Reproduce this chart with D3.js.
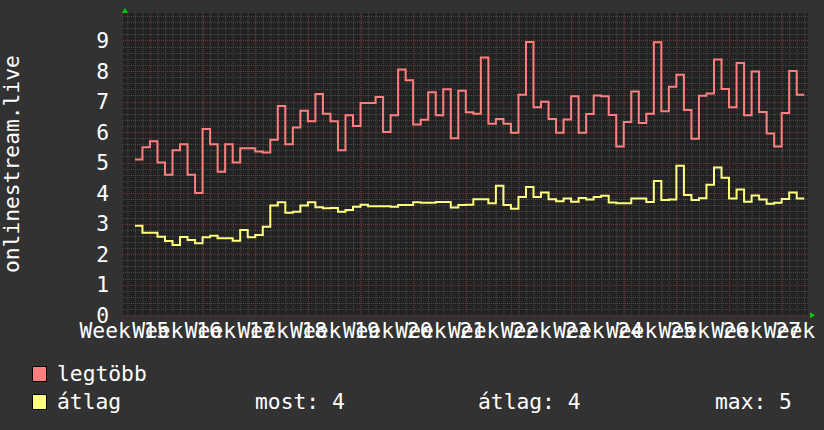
<!DOCTYPE html>
<html>
<head>
<meta charset="utf-8">
<script src="https://cdn.jsdelivr.net/npm/d3@7"></script>
<style>
  html, body { margin: 0; padding: 0; background: #323232; }
  svg { display: block; }
  text { font-family: "DejaVu Sans Mono", monospace; fill: #ffffff; }
</style>
</head>
<body>
<div id="chart"></div>
<script>
//
// rrd-style daily step chart
//

// first day of data (one value per day)
var firstDay = "2024-04-06";

// daily maximum ("legtöbb")
var maxValues = [
    5.1, 5.5, 5.7, 5.0, 4.6, 5.4, 5.6, 4.6, 4.0, 6.1,
    5.6, 4.7, 5.6, 5.0, 5.47, 5.47, 5.36, 5.33, 5.75, 6.85,
    5.6, 6.15, 6.7, 6.35, 7.25, 6.6, 6.35, 5.4, 6.55, 6.2,
    6.95, 6.95, 7.15, 6.0, 6.55, 8.05, 7.7, 6.25, 6.4, 7.3,
    6.55, 7.4, 5.8, 7.35, 6.65, 6.6, 8.44, 6.27, 6.43, 6.27,
    5.98, 7.22, 8.95, 6.81, 6.99, 6.43, 5.98, 6.41, 7.17, 5.98,
    6.59, 7.2, 7.17, 6.56, 5.53, 6.33, 7.33, 6.3, 6.6, 8.94,
    6.68, 7.48, 7.88, 6.72, 5.78, 7.19, 7.26, 8.38, 7.41, 6.81,
    8.26, 6.55, 7.98, 6.66, 5.95, 5.53, 6.62, 8.0, 7.22
];

// daily average ("átlag")
var avgValues = [
    2.93, 2.7, 2.7, 2.57, 2.43, 2.3, 2.56, 2.46, 2.36, 2.55,
    2.6, 2.52, 2.52, 2.44, 2.79, 2.55, 2.63, 2.9, 3.59, 3.7,
    3.36, 3.39, 3.59, 3.7, 3.54, 3.5, 3.51, 3.39, 3.45, 3.55,
    3.62, 3.57, 3.57, 3.57, 3.55, 3.61, 3.61, 3.7, 3.68, 3.68,
    3.71, 3.71, 3.53, 3.61, 3.62, 3.8, 3.8, 3.67, 4.24, 3.61,
    3.49, 3.87, 4.2, 3.87, 4.02, 3.8, 3.73, 3.82, 3.72, 3.84,
    3.79, 3.87, 3.91, 3.69, 3.67, 3.67, 3.82, 3.82, 3.71, 4.4,
    3.77, 3.79, 4.9, 3.94, 3.77, 3.83, 4.27, 4.84, 4.5, 3.82,
    4.12, 3.72, 3.92, 3.79, 3.65, 3.68, 3.81, 4.02, 3.82
];

var yTicks = [0, 1, 2, 3, 4, 5, 6, 7, 8, 9];
var yLabel = "onlinestream.live";
var legendNames = ["legtöbb", "átlag"];
var legendStats = ["most: 4", "átlag: 4", "max: 5"];

var width = 824, height = 430;
var plotLeft = 123, plotRight = 808, plotTop = 13, plotBottom = 315.2;
var colMax = "#ff7f7f", colAvg = "#ffff7f";
var DAY = 864e5;

var svg = d3.select("#chart").append("svg")
    .attr("width", width)
    .attr("height", height);

svg.append("rect").attr("width", width).attr("height", height).attr("fill", "#323232");
svg.append("rect")
    .attr("x", plotLeft).attr("y", plotTop)
    .attr("width", plotRight - plotLeft).attr("height", plotBottom - plotTop)
    .attr("fill", "#222222");

var start = new Date("2024-04-04T10:00:00Z");
var end = new Date("2024-07-04T12:00:00Z");
var x = d3.scaleUtc().domain([start, end]).range([plotLeft, plotRight]);
var y = d3.scaleLinear().domain([0, 9.9]).range([plotBottom, plotTop]);

var t0 = new Date(firstDay + "T00:00:00Z");
function toPoints(vals) {
    var pts = vals.map(function (v, i) { return { t: new Date(+t0 + i * DAY), v: v }; });
    pts.push({ t: new Date(+t0 + vals.length * DAY), v: vals[vals.length - 1] });
    return pts;
}

// minor grid
var g = svg.append("g");
d3.utcDay.range(d3.utcDay.ceil(start), end).forEach(function (d) {
    g.append("line")
        .attr("x1", x(d) + 0.5).attr("x2", x(d) + 0.5)
        .attr("y1", plotTop).attr("y2", plotBottom)
        .attr("stroke", "#4a4a4a").attr("stroke-dasharray", "1,1");
});
d3.range(0, 9.9, 0.2).forEach(function (v) {
    g.append("line")
        .attr("x1", plotLeft).attr("x2", plotRight)
        .attr("y1", Math.round(y(v)) + 0.5).attr("y2", Math.round(y(v)) + 0.5)
        .attr("stroke", "#4a4a4a").attr("stroke-dasharray", "1,1");
});

// major grid
var weeks = d3.utcMonday.range(start, end);
weeks.forEach(function (d) {
    g.append("line")
        .attr("x1", x(d) + 0.5).attr("x2", x(d) + 0.5)
        .attr("y1", plotTop).attr("y2", plotBottom)
        .attr("stroke", "#7a3434").attr("stroke-dasharray", "1,1");
});
yTicks.forEach(function (v) {
    g.append("line")
        .attr("x1", plotLeft).attr("x2", plotRight)
        .attr("y1", Math.round(y(v)) + 0.5).attr("y2", Math.round(y(v)) + 0.5)
        .attr("stroke", "#7a3434").attr("stroke-dasharray", "1,1");
});

// y tick labels
svg.selectAll(".ytick")
    .data(yTicks)
    .enter().append("text")
    .attr("x", 109)
    .attr("y", function (d) { return y(d) + 7.6; })
    .style("text-anchor", "end")
    .style("font-size", "21.3px")
    .text(function (d) { return d; });

// x labels (week labels, overlapping like the original)
var fmtWeek = d3.utcFormat("%V");
var labelWeeks = d3.utcMonday.range(start, new Date(+end + 7 * DAY));
svg.selectAll(".xtick")
    .data(labelWeeks)
    .enter().append("text")
    .attr("x", function (d) { return x(new Date(+d - 3.4 * DAY)); })
    .attr("y", 338)
    .style("text-anchor", "middle")
    .style("font-size", "21.3px")
    .text(function (d) { return "Week " + fmtWeek(d); });

// y axis title
svg.append("text")
    .attr("transform", "translate(18.5," + ((plotTop + plotBottom) / 2) + ") rotate(-90)")
    .style("text-anchor", "middle")
    .style("font-size", "21.3px")
    .text(yLabel);

// series
var line = d3.line()
    .x(function (d) { return x(d.t); })
    .y(function (d) { return y(d.v); })
    .curve(d3.curveStepAfter);

svg.append("path")
    .datum(toPoints(maxValues))
    .attr("fill", "none").attr("stroke", colMax).attr("stroke-width", 2)
    .attr("d", line);
svg.append("path")
    .datum(toPoints(avgValues))
    .attr("fill", "none").attr("stroke", colAvg).attr("stroke-width", 2)
    .attr("d", line);

// arrows
svg.append("path")
    .attr("d", "M" + (plotLeft - 1) + ",13 l3,-5 l3,5 z")
    .attr("fill", "#00cc00");
svg.append("path")
    .attr("d", "M810," + (plotBottom - 3) + " l5,3 l-5,3 z")
    .attr("fill", "#00cc00");

// legend
var legend = svg.append("g");
[colMax, colAvg].forEach(function (c, i) {
    legend.append("rect")
        .attr("x", 32.5).attr("y", 366.5 + i * 28)
        .attr("width", 14).attr("height", 15)
        .attr("fill", c).attr("stroke", "#000");
    legend.append("text")
        .attr("x", 57).attr("y", 381 + i * 28)
        .style("font-size", "21.3px")
        .text(legendNames[i]);
});
[255, 478, 715].forEach(function (px, i) {
    legend.append("text")
        .attr("x", px).attr("y", 409)
        .style("font-size", "21.3px")
        .text(legendStats[i]);
});
</script>
</body>
</html>
